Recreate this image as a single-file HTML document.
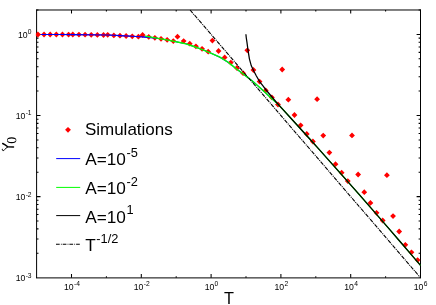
<!DOCTYPE html>
<html><head><meta charset="utf-8"><title>plot</title>
<style>html,body{margin:0;padding:0;background:#fff;}svg{display:block;will-change:transform;transform:translateZ(0);}text{font-family:"Liberation Sans",sans-serif;fill:#000;}</style>
</head><body>
<svg width="436" height="305" viewBox="0 0 436 305">
<rect x="0" y="0" width="436" height="305" fill="#fff"/>
<g stroke="#000" fill="none">
<line x1="36.60" y1="9.59" x2="36.60" y2="278.10" stroke-width="1"/>
<line x1="420.50" y1="9.59" x2="420.50" y2="278.10" stroke-width="1"/>
<line x1="36.10" y1="9.99" x2="421.00" y2="9.99" stroke-width="1" stroke="#000"/>
<line x1="36.10" y1="277.90" x2="421.00" y2="277.90" stroke-width="1" stroke="#000"/>
<path d="M71.50,277.70v-3.60M71.50,9.99v3.60M106.40,277.70v-1.50M106.40,9.99v1.50M141.30,277.70v-3.60M141.30,9.99v3.60M176.20,277.70v-1.50M176.20,9.99v1.50M211.10,277.70v-3.60M211.10,9.99v3.60M246.00,277.70v-1.50M246.00,9.99v1.50M280.90,277.70v-3.60M280.90,9.99v3.60M315.80,277.70v-1.50M315.80,9.99v1.50M350.70,277.70v-3.60M350.70,9.99v3.60M385.60,277.70v-1.50M385.60,9.99v1.50" stroke-width="1.05"/>
<path d="M36.60,34.40h3.90M420.50,34.40h-3.90M36.60,9.99h1.90M420.50,9.99h-1.90M36.60,115.50h3.90M420.50,115.50h-3.90M36.60,91.09h1.90M420.50,91.09h-1.90M36.60,76.81h1.90M420.50,76.81h-1.90M36.60,66.67h1.90M420.50,66.67h-1.90M36.60,58.81h1.90M420.50,58.81h-1.90M36.60,52.39h1.90M420.50,52.39h-1.90M36.60,46.96h1.90M420.50,46.96h-1.90M36.60,42.26h1.90M420.50,42.26h-1.90M36.60,38.11h1.90M420.50,38.11h-1.90M36.60,196.60h3.90M420.50,196.60h-3.90M36.60,172.19h1.90M420.50,172.19h-1.90M36.60,157.91h1.90M420.50,157.91h-1.90M36.60,147.77h1.90M420.50,147.77h-1.90M36.60,139.91h1.90M420.50,139.91h-1.90M36.60,133.49h1.90M420.50,133.49h-1.90M36.60,128.06h1.90M420.50,128.06h-1.90M36.60,123.36h1.90M420.50,123.36h-1.90M36.60,119.21h1.90M420.50,119.21h-1.90M36.60,253.29h1.90M420.50,253.29h-1.90M36.60,239.01h1.90M420.50,239.01h-1.90M36.60,228.87h1.90M420.50,228.87h-1.90M36.60,221.01h1.90M420.50,221.01h-1.90M36.60,214.59h1.90M420.50,214.59h-1.90M36.60,209.16h1.90M420.50,209.16h-1.90M36.60,204.46h1.90M420.50,204.46h-1.90M36.60,200.31h1.90M420.50,200.31h-1.90" stroke-width="1.05"/>
</g>
<polyline points="36.70,34.50 62.00,34.50 75.00,34.60 86.00,34.80 107.00,35.00 113.50,35.30 120.00,35.60 132.00,36.20 141.00,36.80 146.00,37.10 152.00,37.60 156.90,38.20 169.50,40.40 182.10,43.00 186.00,43.80 193.90,46.50 201.70,49.30 209.60,52.60 216.00,55.40 219.90,57.20 227.70,62.00 232.10,65.40 235.60,68.30 240.60,72.00 247.00,76.90 253.20,81.70 259.50,87.30 265.80,93.00 271.00,97.90 277.00,103.30" fill="none" stroke="#0000ff" stroke-width="1.1"/>
<path d="M44.04,31.60L46.94,34.50L44.04,37.40L41.14,34.50ZM50.18,31.60L53.08,34.50L50.18,37.40L47.28,34.50ZM56.32,31.60L59.22,34.50L56.32,37.40L53.42,34.50ZM62.46,31.60L65.36,34.50L62.46,37.40L59.56,34.50ZM68.60,31.70L71.50,34.60L68.60,37.50L65.70,34.60ZM72.80,31.60L75.70,34.50L72.80,37.40L69.90,34.50ZM78.94,31.70L81.84,34.60L78.94,37.50L76.04,34.60ZM85.08,31.80L87.98,34.70L85.08,37.60L82.18,34.70ZM91.22,31.90L94.12,34.80L91.22,37.70L88.32,34.80ZM97.36,32.00L100.26,34.90L97.36,37.80L94.46,34.90ZM103.50,32.10L106.40,35.00L103.50,37.90L100.60,35.00ZM107.70,31.90L110.60,34.80L107.70,37.70L104.80,34.80ZM113.84,32.50L116.74,35.40L113.84,38.30L110.94,35.40ZM119.98,32.80L122.88,35.70L119.98,38.60L117.08,35.70ZM126.12,33.10L129.02,36.00L126.12,38.90L123.22,36.00ZM132.26,33.40L135.16,36.30L132.26,39.20L129.36,36.30ZM138.40,33.80L141.30,36.70L138.40,39.60L135.50,36.70ZM142.60,32.10L145.50,35.00L142.60,37.90L139.70,35.00ZM148.74,34.00L151.64,36.90L148.74,39.80L145.84,36.90ZM154.88,34.90L157.78,37.80L154.88,40.70L151.98,37.80ZM161.02,35.90L163.92,38.80L161.02,41.70L158.12,38.80ZM167.16,36.90L170.06,39.80L167.16,42.70L164.26,39.80ZM173.30,38.20L176.20,41.10L173.30,44.00L170.40,41.10ZM177.50,33.80L180.40,36.70L177.50,39.60L174.60,36.70ZM183.64,38.20L186.54,41.10L183.64,44.00L180.74,41.10ZM189.78,40.80L192.68,43.70L189.78,46.60L186.88,43.70ZM195.92,43.40L198.82,46.30L195.92,49.20L193.02,46.30ZM202.06,45.90L204.96,48.80L202.06,51.70L199.16,48.80ZM208.20,48.80L211.10,51.70L208.20,54.60L205.30,51.70ZM212.40,37.70L215.30,40.60L212.40,43.50L209.50,40.60ZM218.54,48.10L221.44,51.00L218.54,53.90L215.64,51.00ZM224.68,54.50L227.58,57.40L224.68,60.30L221.78,57.40ZM230.82,59.70L233.72,62.60L230.82,65.50L227.92,62.60ZM236.96,65.10L239.86,68.00L236.96,70.90L234.06,68.00ZM243.10,70.30L246.00,73.20L243.10,76.10L240.20,73.20ZM247.30,47.40L250.20,50.30L247.30,53.20L244.40,50.30ZM253.44,67.10L256.34,70.00L253.44,72.90L250.54,70.00ZM259.58,78.70L262.48,81.60L259.58,84.50L256.68,81.60ZM265.72,87.50L268.62,90.40L265.72,93.30L262.82,90.40ZM271.86,94.50L274.76,97.40L271.86,100.30L268.96,97.40ZM278.00,101.60L280.90,104.50L278.00,107.40L275.10,104.50ZM282.20,66.60L285.10,69.50L282.20,72.40L279.30,69.50ZM288.34,96.80L291.24,99.70L288.34,102.60L285.44,99.70ZM294.48,112.10L297.38,115.00L294.48,117.90L291.58,115.00ZM300.62,122.40L303.52,125.30L300.62,128.20L297.72,125.30ZM306.76,131.10L309.66,134.00L306.76,136.90L303.86,134.00ZM312.90,138.60L315.80,141.50L312.90,144.40L310.00,141.50ZM317.10,96.30L320.00,99.20L317.10,102.10L314.20,99.20ZM323.24,132.70L326.14,135.60L323.24,138.50L320.34,135.60ZM329.38,149.70L332.28,152.60L329.38,155.50L326.48,152.60ZM335.52,161.30L338.42,164.20L335.52,167.10L332.62,164.20ZM341.66,169.80L344.56,172.70L341.66,175.60L338.76,172.70ZM347.80,178.20L350.70,181.10L347.80,184.00L344.90,181.10ZM352.00,132.50L354.90,135.40L352.00,138.30L349.10,135.40ZM358.14,171.60L361.04,174.50L358.14,177.40L355.24,174.50ZM364.28,189.30L367.18,192.20L364.28,195.10L361.38,192.20ZM370.42,200.00L373.32,202.90L370.42,205.80L367.52,202.90ZM376.56,209.90L379.46,212.80L376.56,215.70L373.66,212.80ZM382.70,217.60L385.60,220.50L382.70,223.40L379.80,220.50ZM386.90,172.30L389.80,175.20L386.90,178.10L384.00,175.20ZM393.04,213.20L395.94,216.10L393.04,219.00L390.14,216.10ZM399.18,228.60L402.08,231.50L399.18,234.40L396.28,231.50ZM405.32,241.90L408.22,244.80L405.32,247.70L402.42,244.80ZM411.46,249.40L414.36,252.30L411.46,255.20L408.56,252.30ZM417.60,257.20L420.50,260.10L417.60,263.00L414.70,260.10Z" fill="#ff0000"/>
<polyline points="36.70,34.50 62.00,34.50 75.00,34.60 86.00,34.80 107.00,35.00 113.50,35.30 120.00,35.60 132.00,36.20 141.00,36.80 146.00,37.10 152.00,37.60 156.90,38.20" fill="none" stroke="#0000ff" stroke-width="1.1"/>
<path d="M35.9,33.4L37.9,31.4L41.0,34.5L37.9,37.6L35.9,35.6Z" fill="#ff0000"/>
<polyline points="145.00,36.10 147.50,36.50 151.00,37.10 156.90,38.20 169.50,40.40 182.10,43.00 186.00,43.80 193.90,46.50 201.70,49.30 209.60,52.60 216.00,55.40 219.90,57.20 227.70,62.00 232.10,65.40 235.60,68.30 240.60,72.00 247.00,76.90 253.20,81.70 259.50,87.30 265.80,93.00 271.00,97.90 277.00,103.30" fill="none" stroke="#00ff00" stroke-width="1.35"/>
<polyline points="277.00,103.30 283.00,109.55 290.00,117.21 300.00,128.21 310.00,139.27 320.00,150.39 330.00,161.56 340.00,172.80 350.00,184.10 360.00,195.46 370.00,206.87 380.00,218.35 390.00,229.88 400.00,241.48 410.00,253.13 420.50,265.44" fill="none" stroke="#00ff00" stroke-width="1.3"/>
<polyline points="245.90,34.30 246.30,38.00 246.90,41.90 247.90,49.40 249.40,58.80 251.30,65.80 253.90,71.30 256.40,76.00 259.80,81.80 262.80,85.70 265.70,89.50 270.30,95.00 277.00,103.00 283.00,109.55 290.00,117.21 300.00,128.21 310.00,139.27 320.00,150.39 330.00,161.56 340.00,172.80 350.00,184.10 360.00,195.46 370.00,206.87 380.00,218.35 390.00,229.88 400.00,241.48 410.00,253.13 420.50,265.44" fill="none" stroke="#000" stroke-width="1.25"/>
<line x1="190.09" y1="9.99" x2="420.50" y2="277.70" stroke="#000" stroke-width="1.1" stroke-dasharray="4.0 1.0 1.0 0.9"/>
<text x="31.60" y="38.10" font-size="8.7" text-anchor="end">10<tspan font-size="6.7" dy="-3.8" dx="0.3">0</tspan></text>
<text x="31.60" y="119.20" font-size="8.7" text-anchor="end">10<tspan font-size="6.7" dy="-3.8" dx="0.3">-1</tspan></text>
<text x="31.60" y="200.30" font-size="8.7" text-anchor="end">10<tspan font-size="6.7" dy="-3.8" dx="0.3">-2</tspan></text>
<text x="31.60" y="281.40" font-size="8.7" text-anchor="end">10<tspan font-size="6.7" dy="-3.8" dx="0.3">-3</tspan></text>
<text x="71.90" y="289.80" font-size="8.7" text-anchor="middle">10<tspan font-size="6.7" dy="-3.8" dx="0.3">-4</tspan></text>
<text x="141.70" y="289.80" font-size="8.7" text-anchor="middle">10<tspan font-size="6.7" dy="-3.8" dx="0.3">-2</tspan></text>
<text x="211.50" y="289.80" font-size="8.7" text-anchor="middle">10<tspan font-size="6.7" dy="-3.8" dx="0.3">0</tspan></text>
<text x="281.30" y="289.80" font-size="8.7" text-anchor="middle">10<tspan font-size="6.7" dy="-3.8" dx="0.3">2</tspan></text>
<text x="351.10" y="289.80" font-size="8.7" text-anchor="middle">10<tspan font-size="6.7" dy="-3.8" dx="0.3">4</tspan></text>
<text x="420.60" y="289.80" font-size="8.7" text-anchor="middle">10<tspan font-size="6.7" dy="-3.8" dx="0.3">6</tspan></text>
<text x="229" y="304" font-size="16.3" text-anchor="middle">T</text>
<g fill="none" stroke="#000" stroke-linecap="round" stroke-linejoin="round"><path d="M2.7,143.5 Q5.2,144.6 7.7,146.8 L13.5,147.0" stroke-width="1.5"/><path d="M7.7,147.0 Q5.6,148.0 4.6,149.7 Q3.9,151.0 2.8,150.6 Q1.9,150.2 2.3,149.2" stroke-width="0.95"/></g>
<path fill="#000" fill-rule="evenodd" d="M6.95,140.3a4.7,3.0 0 1,0 9.4,0a4.7,3.0 0 1,0 -9.4,0Z M7.5,140.3a4.15,1.75 0 1,0 8.3,0a4.15,1.75 0 1,0 -8.3,0Z"/>
<path d="M68.00,126.90L70.90,129.80L68.00,132.70L65.10,129.80Z" fill="#ff0000"/>
<text x="84.9" y="135.4" font-size="17.0">Simulations</text>
<line x1="56.20" y1="158.6" x2="80.20" y2="158.6" stroke="#0000ff" stroke-width="1"/>
<text x="85.3" y="165.30" font-size="17.2">A=10<tspan font-size="12.8" dy="-8.3" dx="0.5">-5</tspan></text>
<line x1="56.20" y1="187.4" x2="80.20" y2="187.4" stroke="#00ff00" stroke-width="1"/>
<text x="85.3" y="194.20" font-size="17.2">A=10<tspan font-size="12.8" dy="-8.3" dx="0.5">-2</tspan></text>
<line x1="56.20" y1="215.6" x2="80.20" y2="215.6" stroke="#000" stroke-width="1"/>
<text x="85.3" y="222.60" font-size="17.2">A=10<tspan font-size="12.8" dy="-8.3" dx="0.5">1</tspan></text>
<line x1="56.00" y1="244.2" x2="79.80" y2="244.2" stroke="#000" stroke-width="1.1" stroke-dasharray="3.7 1.2 0.8 1.0"/>
<text x="85.3" y="251.20" font-size="17.2">T<tspan font-size="12.8" dy="-8.3" dx="0.5">-1/2</tspan></text>
</svg></body></html>
